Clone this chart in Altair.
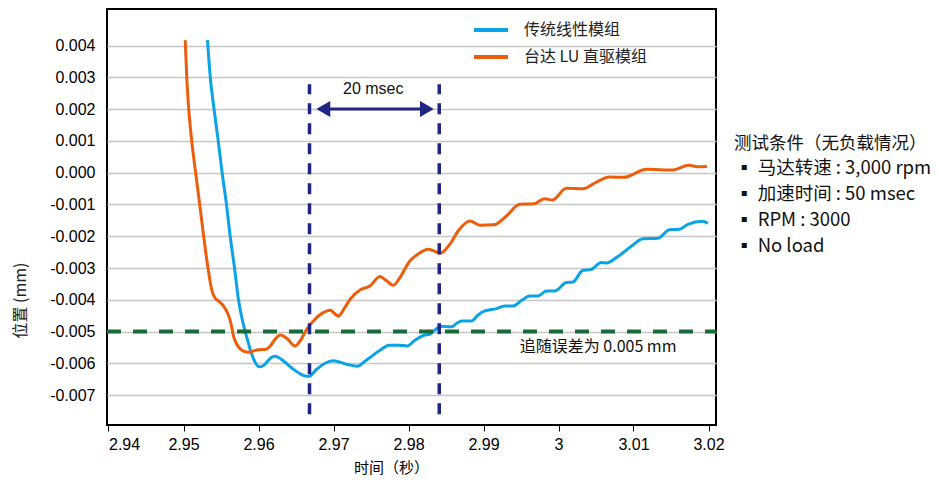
import altair as alt
import pandas as pd

# ---------------- data ----------------
series_names = ["传统线性模组", "台达 LU 直驱模组"]

blue_t = [2.95320, 2.95356, 2.95406, 2.95462, 2.95515, 2.95573, 2.95622, 2.95679, 2.95732,
          2.95782, 2.95822, 2.95862, 2.95901, 2.95955, 2.96008, 2.96061, 2.96115, 2.96168,
          2.96221, 2.96274, 2.96332, 2.96465, 2.96554, 2.96621, 2.96674, 2.96776, 2.96887,
          2.96997, 2.97176, 2.97320, 2.97420, 2.97486, 2.97619, 2.97739, 2.97859, 2.97985,
          2.98085, 2.98205, 2.98285, 2.98365, 2.98418, 2.98574, 2.98644, 2.98711, 2.98840,
          2.98924, 2.99017, 2.99173, 2.99284, 2.99394, 2.99510, 2.99617, 2.99727, 2.99839,
          2.99949, 3.00105, 3.00193, 3.00326, 3.00429, 3.00571, 3.00638, 3.00771, 3.00975,
          3.01125, 3.01325, 3.01481, 3.01614, 3.01724, 3.01924, 3.01991]
blue_v = [0.004170, 0.003028, 0.002022, 0.001016, 0.000000, -0.000997, -0.001994, -0.002978, -0.003984,
          -0.004613, -0.004991, -0.005336, -0.005651, -0.005965, -0.006107, -0.006075, -0.005950, -0.005824,
          -0.005777, -0.005824, -0.005925, -0.006186, -0.006327, -0.006396, -0.006406, -0.006186, -0.005997,
          -0.005918, -0.006028, -0.006091, -0.005934, -0.005818, -0.005591, -0.005431, -0.005431, -0.005453,
          -0.005274, -0.005116, -0.005085, -0.004928, -0.004833, -0.004849, -0.004739, -0.004667, -0.004667,
          -0.004487, -0.004352, -0.004277, -0.004195, -0.004195, -0.004016, -0.003881, -0.003881, -0.003723,
          -0.003723, -0.003459, -0.003440, -0.003072, -0.003050, -0.002830, -0.002843, -0.002673, -0.002308,
          -0.002082, -0.002066, -0.001799, -0.001783, -0.001626, -0.001531, -0.001601]

orange_t = [2.95023, 2.95043, 2.95069, 2.95109, 2.95162, 2.95216, 2.95269, 2.95325, 2.95375,
            2.95422, 2.95475, 2.95533, 2.95595, 2.95635, 2.95666, 2.95711, 2.95778, 2.95866,
            2.95977, 2.96101, 2.96154, 2.96221, 2.96288, 2.96377, 2.96487, 2.96554, 2.96643,
            2.96731, 2.96864, 2.96953, 2.97064, 2.97153, 2.97220, 2.97353, 2.97486, 2.97619,
            2.97699, 2.97796, 2.97885, 2.98018, 2.98125, 2.98262, 2.98351, 2.98418, 2.98485,
            2.98551, 2.98662, 2.98818, 2.98964, 2.99137, 2.99306, 2.99483, 2.99670, 2.99816,
            2.99916, 3.00105, 3.00326, 3.00505, 3.00682, 3.00868, 3.01174, 3.01525, 3.01733,
            3.01858, 3.01980]
orange_v = [0.004170, 0.003028, 0.002022, 0.001016, 0.000000, -0.000997, -0.002003, -0.002978, -0.003670,
            -0.003953, -0.004047, -0.004195, -0.004456, -0.004770, -0.005138, -0.005399, -0.005588, -0.005651,
            -0.005579, -0.005557, -0.005462, -0.005242, -0.005107, -0.005211, -0.005453, -0.005296, -0.004928,
            -0.004667, -0.004403, -0.004330, -0.004509, -0.004236, -0.003984, -0.003692, -0.003566, -0.003270,
            -0.003387, -0.003544, -0.003302, -0.002780, -0.002569, -0.002412, -0.002475, -0.002538, -0.002443,
            -0.002255, -0.001836, -0.001522, -0.001657, -0.001642, -0.001365, -0.000997, -0.000981, -0.000818,
            -0.000862, -0.000494, -0.000509, -0.000296, -0.000138, -0.000148, 0.000104, 0.000082, 0.000230,
            0.000189, 0.000198]

x_ticks = [2.94, 2.95, 2.96, 2.97, 2.98, 2.99, 3.00, 3.01, 3.02]
y_ticks = [-0.007, -0.006, -0.005, -0.004, -0.003, -0.002, -0.001, 0.000, 0.001, 0.002, 0.003, 0.004]
x_domain = [2.9398, 3.0210]
y_domain = [-0.00794, 0.00515]

window_t = [2.9668, 2.9841]          # 20 msec window borders
window_v = [-0.0076, 0.00278]
arrow_t = [2.9682, 2.9828]
arrowhead_t = [2.96864, 2.98246]
arrow_v = 0.0020
window_label = "20 msec"
window_label_pos = [2.9753, 0.00262]

error_v = -0.005
error_label = "追随误差为 0.005 mm"
error_label_pos = [2.99483, -0.00549]

cond_title = "测试条件（无负载情况）"
cond_lines = ["▪ 马达转速 : 3,000 rpm", "▪ 加速时间 : 50 msec", "▪ RPM : 3000", "▪ No load"]

x_title = "时间（秒）"
y_title = "位置 (mm)"

BLUE = "#0AA3E6"
ORANGE = "#EC5D0C"
NAVY = "#1E2586"
GREEN = "#1A6B3A"
CJK = "Noto Sans CJK SC"
LAT = "Liberation Sans"

# ---------------- frames ----------------
curves = pd.DataFrame({
    "t": blue_t + orange_t,
    "v": blue_v + orange_v,
    "series": [series_names[0]] * len(blue_t) + [series_names[1]] * len(orange_t),
})
win_df = pd.DataFrame({"t": window_t, "v": [window_v[0]] * 2, "v2": [window_v[1]] * 2})
arrow_df = pd.DataFrame({"t": [arrow_t[0]], "t2": [arrow_t[1]], "v": [arrow_v]})
head_l = pd.DataFrame({"t": [arrowhead_t[0]], "v": [arrow_v]})
head_r = pd.DataFrame({"t": [arrowhead_t[1]], "v": [arrow_v]})
err_df = pd.DataFrame({"t": [x_domain[0]], "t2": [x_domain[1]], "v": [error_v]})
lab1 = pd.DataFrame({"t": [window_label_pos[0]], "v": [window_label_pos[1]], "txt": [window_label]})
lab2 = pd.DataFrame({"t": [error_label_pos[0]], "v": [error_label_pos[1]], "txt": [error_label]})
one = pd.DataFrame({"a": [0]})

xs = alt.Scale(domain=x_domain, nice=False, zero=False)
ys = alt.Scale(domain=y_domain, nice=False, zero=False)

x_axis = alt.Axis(
    values=x_ticks, tickCount=20, format="~g", title=x_title, grid=False, domain=False,
    tickSize=6, tickColor="black", tickWidth=1, labelPadding=5,
    labelFont=LAT, labelFontSize=16, labelColor="black", labelFlush=False,
    labelOverlap=False, labelBound=False,
    labelAlign=alt.condition("datum.value < 2.945", alt.value("left"), alt.value("center")),
    titleFont=CJK, titleFontSize=15, titleFontWeight="normal", titleColor="black",
    titleX=284, titleY=42, titleBaseline="middle", titleAlign="center",
)
y_axis = alt.Axis(
    values=y_ticks, tickCount=30, labelExpr="replace(format(datum.value, '.3f'), '\u2212', '-')",
    title=y_title, grid=True, gridColor="#C6C6C6", gridWidth=1.5, ticks=False, domain=False,
    labelPadding=12, labelFont=LAT, labelFontSize=16, labelColor="black",
    labelOverlap=False, labelBound=False, labelFlush=False,
    titleFont=CJK, titleFontSize=16, titleFontWeight="normal", titleColor="#222222",
    titleX=-87, titleY=291, titleAngle=-90, titleBaseline="middle", titleAlign="center",
)

lines = alt.Chart(curves).mark_line(strokeWidth=3, interpolate="monotone").encode(
    x=alt.X("t:Q", scale=xs, axis=x_axis),
    y=alt.Y("v:Q", scale=ys, axis=y_axis),
    color=alt.Color(
        "series:N",
        scale=alt.Scale(domain=series_names, range=[BLUE, ORANGE]),
        sort=series_names,
        legend=alt.Legend(
            orient="none", legendX=365, legendY=2, title=None, symbolType="stroke",
            symbolSize=1156, symbolStrokeWidth=4, labelFont=CJK, labelFontSize=16,
            labelColor="#222222", labelOffset=14, rowPadding=0, padding=0,
        ),
    ),
    detail="series:N",
)

win = alt.Chart(win_df).mark_rule(color=NAVY, strokeWidth=3.5, strokeDash=[11, 9]).encode(
    x="t:Q", y="v:Q", y2="v2:Q")
arrow = alt.Chart(arrow_df).mark_rule(color=NAVY, strokeWidth=3).encode(
    x="t:Q", x2="t2:Q", y="v:Q")
hl = alt.Chart(head_l).mark_point(shape="triangle-left", filled=True, size=256, color=NAVY, opacity=1).encode(
    x="t:Q", y="v:Q")
hr = alt.Chart(head_r).mark_point(shape="triangle-right", filled=True, size=256, color=NAVY, opacity=1).encode(
    x="t:Q", y="v:Q")
err = alt.Chart(err_df).mark_rule(color=GREEN, strokeWidth=4, strokeDash=[14, 12]).encode(
    x="t:Q", x2="t2:Q", y="v:Q")
t1 = alt.Chart(lab1).mark_text(font=LAT, fontSize=16, color="#111111", align="center", baseline="middle").encode(
    x="t:Q", y="v:Q", text="txt:N")
t2 = alt.Chart(lab2).mark_text(font=CJK, fontSize=16, color="#111111", align="left", baseline="middle").encode(
    x="t:Q", y="v:Q", text="txt:N")
cond_head = alt.Chart(one).mark_text(font=CJK, fontSize=17.5, color="#111111", align="left",
                                     baseline="alphabetic").encode(
    x=alt.value(627), y=alt.value(139.5), text=alt.value(cond_title))
cond = alt.Chart(one).mark_text(font=CJK, fontSize=18.5, color="#111111", align="left",
                                baseline="alphabetic", lineHeight=25.8).encode(
    x=alt.value(628), y=alt.value(165.3), text=alt.value(cond_lines))

chart = alt.layer(lines, win, arrow, hl, hr, err, t1, t2, cond_head, cond).properties(
    width=609, height=416,
    autosize=alt.AutoSizeParams(type="none"),
    padding={"left": 99, "top": 1, "right": 214, "bottom": 50},
    background="white",
).configure_view(stroke="black", strokeWidth=2)

chart.save("out.html", embed_options={"renderer": "svg", "actions": False})
